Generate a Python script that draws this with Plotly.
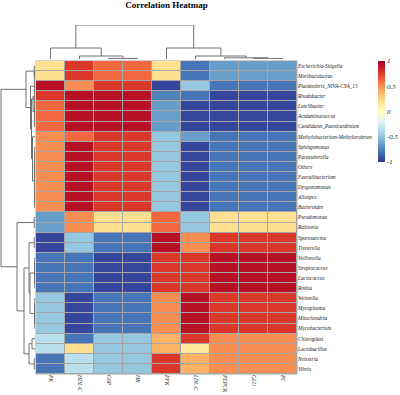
import plotly.graph_objects as go

W, H = 400, 395

rows = ["Escherichia-Shigella", "Muribaculaceae", "Planktothrix_NIVA-CYA_15", "Rhodobacter",
        "Lutelibacter", "Acidaminococcus", "Candidatus_Paenicardinium",
        "Methylobacterium-Methylorubrum", "Sphingomonas", "Parasutterella", "Others",
        "Faecalibacterium", "Dysgonomonas", "Alistipes", "Bacteroides", "Pseudomonas",
        "Ralstonia", "Sporosarcina", "Tissierella", "Veillonella", "Streptococcus",
        "Lactococcus", "Rothia", "Weissella", "Mycoplasma", "Mitochondria", "Mycobacterium",
        "Chloroplast", "Lactobacillus", "Neisseria", "Vibrio"]
cols = ["PK", "HDL-C", "G6P", "HK", "PFK", "LDL-C", "PEPCK", "GLU", "PC"]

PK = [0.2, 0.2, 0.93, 0.78, 0.62, 0.62, 0.62, 0.5, 0.5, 0.5, 0.5, 0.5, 0.5, 0.5, 0.5,
      -0.65, -0.65, -0.95, -0.95, -0.8, -0.8, -0.8, -0.8, -0.48, -0.48, -0.48, -0.48,
      -0.35, -0.35, -0.8, -0.8]
HDL_C = [0.78, 0.78, 0.5, 0.93, 0.93, 0.93, 0.93, 0.62, 0.93, 0.93, 0.93, 0.93, 0.93, 0.93, 0.93,
         0.5, 0.5, -0.48, -0.48, -0.8, -0.8, -0.8, -0.8, -0.95, -0.95, -0.95, -0.95,
         -0.8, 0.2, -0.35, -0.35]
G6P = [0.62, 0.62, 0.78, 0.93, 0.93, 0.93, 0.93, 0.78, 0.78, 0.78, 0.78, 0.78, 0.78, 0.78, 0.78,
       0.2, 0.2, -0.8, -0.8, -0.95, -0.95, -0.95, -0.95, -0.8, -0.8, -0.8, -0.8,
       -0.48, -0.48, -0.48, -0.48]
HK = [0.62, 0.62, 0.78, 0.93, 0.93, 0.93, 0.93, 0.78, 0.78, 0.78, 0.78, 0.78, 0.78, 0.78, 0.78,
      0.2, 0.2, -0.8, -0.8, -0.95, -0.95, -0.95, -0.95, -0.8, -0.8, -0.8, -0.8,
      -0.48, -0.48, -0.48, -0.48]
PFK = [0.2, 0.2, -0.95, -0.75, -0.65, -0.65, -0.65, -0.48, -0.48, -0.48, -0.48, -0.48, -0.48, -0.48, -0.48,
       0.62, 0.62, 0.93, 0.93, 0.78, 0.78, 0.78, 0.78, 0.5, 0.5, 0.5, 0.5,
       0.38, 0.38, 0.78, 0.78]
LDL_C = [-0.8, -0.8, -0.48, -0.8, -0.95, -0.95, -0.95, -0.65, -0.95, -0.95, -0.95, -0.95, -0.95, -0.95, -0.95,
         -0.48, -0.48, 0.5, 0.5, 0.78, 0.78, 0.78, 0.78, 0.93, 0.93, 0.93, 0.93,
         0.78, 0.15, 0.38, 0.38]
PEPCK = [-0.65, -0.65, -0.8, -0.95, -0.95, -0.95, -0.95, -0.8, -0.8, -0.8, -0.8, -0.8, -0.8, -0.8, -0.8,
         0.2, 0.2, 0.78, 0.78, 0.93, 0.93, 0.93, 0.93, 0.78, 0.78, 0.78, 0.78,
         0.5, 0.5, 0.5, 0.5]
GLU = list(PEPCK)
PC = list(PEPCK)

# linkage (left child, right child, merge height) in display-order leaf indices
col_merges = [(2, 3, 0.6), (7, 8, 0.6), (6, 10, 1.2), (1, 9, 3.0), (5, 11, 3.0),
              (0, 12, 11.0), (4, 13, 11.0), (14, 15, 34.0)]
row_merges = [(0, 1, 0.8), (4, 5, 0.3), (31, 6, 0.6), (3, 32, 2.0),
              (8, 9, 0.2), (10, 11, 0.2), (12, 13, 0.2), (35, 36, 0.4), (37, 14, 0.4), (38, 39, 0.6),
              (7, 40, 2.5), (33, 41, 3.5), (2, 42, 4.5), (31, 43, 9.0),
              (15, 16, 0.8), (17, 18, 0.8), (19, 20, 0.2), (21, 22, 0.2), (47, 48, 0.5),
              (23, 24, 0.2), (25, 26, 0.2), (50, 51, 0.5), (49, 52, 5.0), (46, 53, 6.0),
              (27, 28, 3.0), (29, 30, 0.8), (55, 56, 6.0), (54, 57, 11.0), (45, 58, 18.0),
              (44, 59, 34.0)]


def dendro(merges, n):
    pos = {i: float(i) for i in range(n)}
    hgt = {i: 0.0 for i in range(n)}
    P, Hh = [], []
    for k, (a, b, h) in enumerate(merges):
        node = n + k
        P += [pos[a], pos[a], pos[b], pos[b], None]
        Hh += [hgt[a], h, h, hgt[b], None]
        pos[node] = (pos[a] + pos[b]) / 2
        hgt[node] = h
    return P, Hh


z = [[PK[i], HDL_C[i], G6P[i], HK[i], PFK[i], LDL_C[i], PEPCK[i], GLU[i], PC[i]] for i in range(len(rows))]

x0, x1 = 36, 297
y0, y1 = 61, 374
def px(x): return x / W
def py(y): return 1 - y / H

serif = "Liberation Serif"
fig = go.Figure()
fig.add_trace(go.Heatmap(
    z=z, x=list(range(len(cols))), y=list(range(len(rows))),
    zmin=-1, zmax=1, colorscale="RdYlBu", reversescale=True,
    xgap=1, ygap=1, hoverinfo="skip",
    colorbar=dict(x=px(378), xanchor="left", xref="container", y=py(61), yanchor="top",
                  yref="container",
                  len=101, lenmode="pixels", thickness=7, thicknessmode="pixels",
                  outlinewidth=0, tickvals=[-1, -0.5, 0, 0.5, 1],
                  ticktext=["<i>-1</i>", "<i>-0.5</i>", "<i>0</i>", "<i>0.5</i>", "<i>1</i>"],
                  tickfont=dict(family=serif, size=7, color="#222"), ticks="", ypad=0, xpad=0)))

cp, ch = dendro(col_merges, len(cols))
fig.add_trace(go.Scatter(x=cp, y=ch, mode="lines", line=dict(color="#707070", width=1),
                         xaxis="x2", yaxis="y2", hoverinfo="skip", showlegend=False))
rp, rh = dendro(row_merges, len(rows))
fig.add_trace(go.Scatter(x=rh, y=rp, mode="lines", line=dict(color="#707070", width=1),
                         xaxis="x3", yaxis="y3", hoverinfo="skip", showlegend=False))

fig.add_shape(type="rect", xref="paper", yref="paper", x0=px(x0 - 0.5), x1=px(x1 + 0.5),
              y0=py(y1 + 0.5), y1=py(y0 - 0.5), fillcolor="#a6a6a6", line_width=0, layer="below")

fig.update_layout(
    width=W, height=H, margin=dict(l=0, r=0, t=0, b=0, pad=0, autoexpand=False),
    paper_bgcolor="white", plot_bgcolor="rgba(0,0,0,0)", showlegend=False,
    title=dict(text="<b>Correlation Heatmap</b>", x=px(166.5), xanchor="center",
               y=py(5), yanchor="middle", yref="container", xref="container",
               font=dict(family=serif, size=9, color="black")),
    xaxis=dict(domain=[px(x0), px(x1)], range=[-0.5, len(cols) - 0.5], automargin=False,
               tickvals=list(range(len(cols))), ticktext=[f"<i>{c}</i>" for c in cols],
               tickangle=90, tickfont=dict(family=serif, size=5.5, color="#222"),
               showgrid=False, zeroline=False, ticks="", showline=False),
    yaxis=dict(domain=[py(y1), py(y0)], range=[len(rows) - 0.5, -0.5], side="right",
               automargin=False,
               tickvals=list(range(len(rows))), ticktext=[f"<i>{r}</i>" for r in rows],
               tickfont=dict(family=serif, size=5.3, color="#222"),
               showgrid=False, zeroline=False, ticks="", showline=False),
    xaxis2=dict(domain=[px(x0), px(x1)], range=[-0.5, len(cols) - 0.5], anchor="y2",
                visible=False, automargin=False),
    yaxis2=dict(domain=[py(59), py(25)], range=[0, 34], anchor="x2", visible=False,
                automargin=False),
    xaxis3=dict(domain=[0, px(35)], range=[35, 0], anchor="y3", visible=False, automargin=False),
    yaxis3=dict(domain=[py(y1), py(y0)], range=[len(rows) - 0.5, -0.5], anchor="x3",
                visible=False, automargin=False),
)

fig.write_html("out.html", config={"displayModeBar": False, "staticPlot": True},
               post_script="document.body.style.margin='0';document.body.style.overflow='hidden';")
